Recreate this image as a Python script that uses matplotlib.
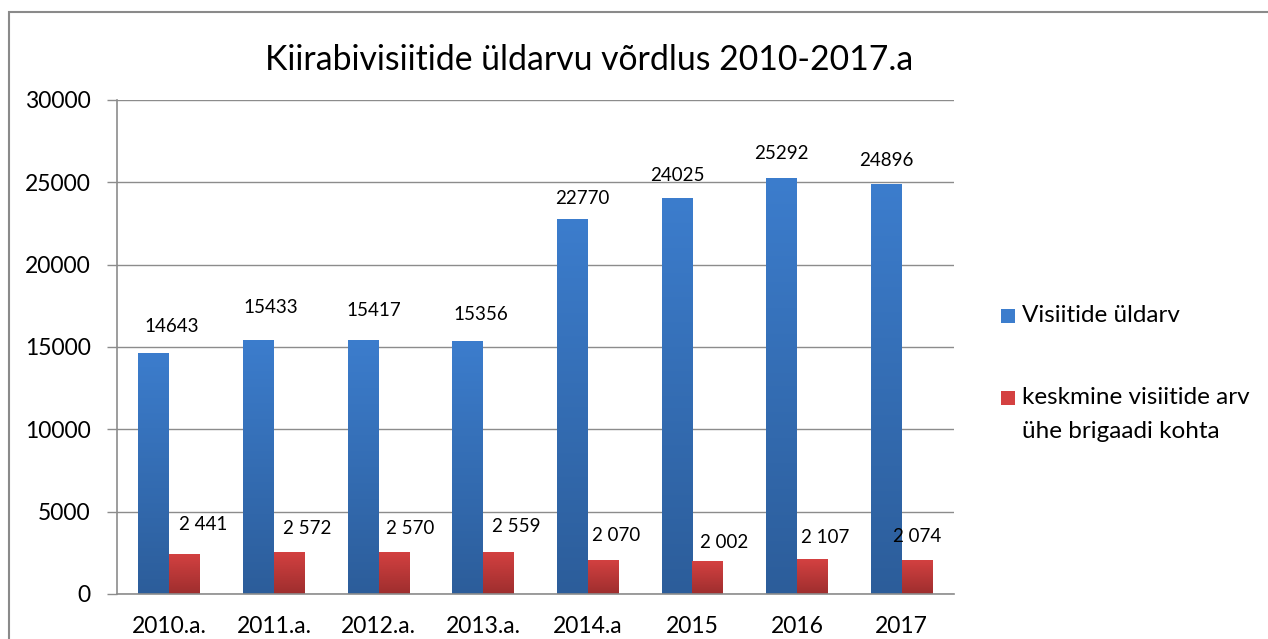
import numpy as np
import matplotlib
matplotlib.use("Agg")
import matplotlib.pyplot as plt
from matplotlib.colors import LinearSegmentedColormap
from matplotlib.patches import Rectangle

plt.rcParams["font.family"] = ["Lato", "DejaVu Sans"]

# ── Data ───────────────────────────────────────────────────────────────────────
years = ["2010.a.", "2011.a.", "2012.a.", "2013.a.", "2014.a", "2015", "2016", "2017"]
visits_total = [14643, 15433, 15417, 15356, 22770, 24025, 25292, 24896]
visits_per_brigade = [2441, 2572, 2570, 2559, 2070, 2002, 2107, 2074]
brigade_labels = ["2 441", "2 572", "2 570", "2 559", "2 070", "2 002", "2 107", "2 074"]

TITLE = "Kiirabivisiitide üldarvu võrdlus 2010-2017.a"
LEG_TOTAL = "Visiitide üldarv"
LEG_BRIGADE = ["keskmine visiitide arv", "ühe brigaadi kohta"]

# label offsets in points (Excel placed them a bit irregularly)
blue_dx = [13, 9, 8, 9.4, 7.2, 0, 0, 0]
blue_dy = [18.7, 23, 21.6, 19.4, 15, 16.6, 17.3, 17.3]
red_dx = [13, 13, 11.5, 13, 9.4, 11.5, 9, 0]
red_dy = [21, 16.6, 16.6, 18, 17.3, 13, 15.8, 16.6]

BLUE_TOP, BLUE_BOT = "#3c7dcd", "#2c5d9a"
RED_TOP, RED_BOT = "#d44141", "#9e2e2e"
GRID = "#8c8c8c"

W, H = 1268, 639
fig = plt.figure(figsize=(W / 100, H / 100), dpi=100)
ax = fig.add_axes([117 / W, 1 - 594 / H, (954 - 117) / W, (594 - 100) / H])

x = np.arange(len(years))
bw = 0.295
b1 = ax.bar(x - bw / 2, visits_total, bw, color=BLUE_TOP, zorder=2)
b2 = ax.bar(x + bw / 2, visits_per_brigade, bw, color=RED_TOP, zorder=2)


def gradient(bars, top, bot):
    cmap = LinearSegmentedColormap.from_list("g", [bot, top])
    grad = np.linspace(0, 1, 256).reshape(-1, 1)
    for b in bars:
        x0, y0 = b.get_x(), b.get_y()
        im = ax.imshow(grad, cmap=cmap, aspect="auto", origin="lower",
                       extent=(x0, x0 + b.get_width(), y0, y0 + b.get_height()),
                       zorder=2.5)
        im.set_clip_path(b)


gradient(b1, BLUE_TOP, BLUE_BOT)
gradient(b2, RED_TOP, RED_BOT)

ax.set_xlim(-0.5, len(years) - 0.5)
ax.set_ylim(0, 30000)
ax.set_yticks(range(0, 30001, 5000))
ax.set_xticks(x)
ax.set_xticklabels(years)
ax.tick_params(axis="x", length=0, pad=16, labelsize=16.5)
ax.tick_params(axis="y", length=7, width=1, color=GRID, pad=12, labelsize=16.5)
ax.yaxis.grid(True, color=GRID, lw=1)
ax.set_axisbelow(True)
for s in ["top", "right"]:
    ax.spines[s].set_visible(False)
for s in ["left", "bottom"]:
    ax.spines[s].set_color(GRID)
    ax.spines[s].set_linewidth(1.2)

for i, b in enumerate(b1):
    ax.annotate(str(visits_total[i]), (b.get_x() + b.get_width() / 2, b.get_height()),
                xytext=(blue_dx[i], blue_dy[i]), textcoords="offset points",
                ha="center", va="center", fontsize=13.5)
for i, b in enumerate(b2):
    ax.annotate(brigade_labels[i], (b.get_x() + b.get_width() / 2, b.get_height()),
                xytext=(red_dx[i], red_dy[i]), textcoords="offset points",
                ha="center", va="center", fontsize=13.5)

fig.text(589 / W, 1 - 60 / H, TITLE, ha="center", va="center", fontsize=24.3)

# legend (drawn by hand so the square lines up with the first text line)
for ly, col, lines in [(316, BLUE_TOP, [LEG_TOTAL]), (398, RED_TOP, LEG_BRIGADE)]:
    fig.patches.append(Rectangle((1001 / W, 1 - (ly + 7) / H), 14 / W, 14 / H,
                                 transform=fig.transFigure, facecolor=col, lw=0))
    for k, line in enumerate(lines):
        fig.text(1022 / W, 1 - (ly + 34 * k) / H, line, ha="left", va="center",
                 fontsize=17.5)

# outer chart frame
fig.patches.append(Rectangle((9 / W, -0.1), 1.2, 1.1 - 12 / H,
                             transform=fig.transFigure, fill=False,
                             edgecolor="#8a8a8a", lw=1.5))

fig.savefig("out.png", dpi=100, facecolor="white")
